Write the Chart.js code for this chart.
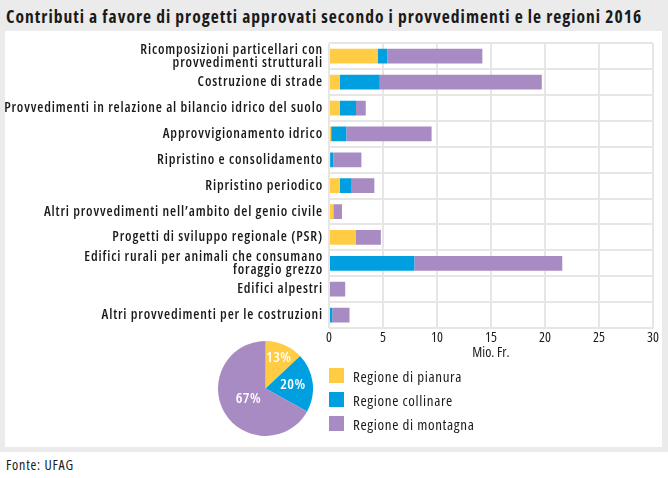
<!DOCTYPE html>
<html lang="it">
<head>
<meta charset="UTF-8">
<title>Contributi 2016</title>
<style>
  body { margin: 0; width: 668px; height: 478px; background: #fff; position: relative; font-family: "Open Sans", sans-serif; font-stretch: condensed; color: #1a1a1a; overflow: hidden; }
  .frame { position: absolute; left: 0; top: 0; width: 668px; height: 452px; background: #ebebeb; }
  .title { position: absolute; left: 6px; top: 4px; font-size: 17.5px; font-weight: bold; letter-spacing: 1px; white-space: nowrap; }
  .panel { position: absolute; left: 5px; top: 31px; width: 657px; height: 416px; background: #fff; }
  #barWrap { position: absolute; left: 0; top: 31px; width: 668px; height: 330px; }
  #pieWrap { position: absolute; left: 218px; top: 341px; width: 95px; height: 95px; }
  .legend { position: absolute; left: 329px; top: 368px; font-size: 15px; letter-spacing: 0.65px; }
  .legend div { height: 24px; line-height: 16px; position: relative; padding-left: 24px; }
  .legend span { position: absolute; left: 0; top: 0; width: 15px; height: 15px; }
  .source { position: absolute; left: 6px; top: 455px; font-size: 14px; letter-spacing: 0.8px; }
</style>
</head>
<body>
<div class="frame"></div>
<div class="title">Contributi a favore di progetti approvati secondo i provvedimenti e le regioni 2016</div>
<div class="panel"></div>
<div id="barWrap"><canvas id="barChart"></canvas></div>
<div id="pieWrap"><canvas id="pieChart"></canvas></div>
<div class="legend" id="legend"></div>
<div class="source">Fonte: UFAG</div>

<script src="https://cdn.jsdelivr.net/npm/chart.js"></script>
<script>
    // categorie (provvedimenti)
    var categories = [
        ['Ricomposizioni particellari con', 'provvedimenti strutturali'],
        'Costruzione di strade',
        'Provvedimenti in relazione al bilancio idrico del suolo',
        'Approvvigionamento idrico',
        'Ripristino e consolidamento',
        'Ripristino periodico',
        'Altri provvedimenti nell\u2019ambito del genio civile',
        'Progetti di sviluppo regionale (PSR)',
        ['Edifici rurali per animali che consumano', 'foraggio grezzo'],
        'Edifici alpestri',
        'Altri provvedimenti per le costruzioni'
    ];
    var regions = ['Regione di pianura', 'Regione collinare', 'Regione di montagna'];
    var colors = ['#ffcc44', '#00a0e0', '#a88bc2'];

    // Mio. Fr.
    var pianura   = [4.5, 1.0, 1.0, 0.2, 0.1, 1.0, 0.4, 2.5, 0.0, 0.0, 0.0];
    var collinare = [0.9, 3.7, 1.5, 1.4, 0.3, 1.1, 0.0, 0.0, 7.9, 0.0, 0.3];
    var montagna  = [8.8, 15.0, 0.9, 7.9, 2.6, 2.1, 0.8, 2.3, 13.7, 1.5, 1.6];

    var xTicks = [0, 5, 10, 15, 20, 25, 30];

    // quote in percentuale (torta)
    var shares = [13, 20, 67];
    var shareLabels = ['13%', '20%', '67%'];

    // canvas: lo stretch passa nella stringa font tramite "weight"
    var fontFam = '"Open Sans", sans-serif';

    // legenda
    var lg = document.getElementById('legend');
    regions.forEach(function (r, i) {
        var d = document.createElement('div');
        d.innerHTML = '<span style="background:' + colors[i] + '"></span>' + r;
        lg.appendChild(d);
    });

    // spaziatura lettere solo per le etichette dell'asse y (disegnate dopo le barre, z: 1)
    var spacing = {
        id: 'spacing',
        beforeDraw: function (chart) { chart.ctx.letterSpacing = '0px'; },
        afterDatasetsDraw: function (chart) { chart.ctx.letterSpacing = '0.85px'; },
        afterDraw: function (chart) { chart.ctx.letterSpacing = '0px'; }
    };

    // bar chart
    var barChart = new Chart(document.getElementById('barChart'), {
        type: 'bar',
        data: {
            labels: categories,
            datasets: [
                { label: regions[0], data: pianura, backgroundColor: colors[0] },
                { label: regions[1], data: collinare, backgroundColor: colors[1] },
                { label: regions[2], data: montagna, backgroundColor: colors[2] }
            ]
        },
        options: {
            indexAxis: 'y',
            responsive: true,
            maintainAspectRatio: false,
            animation: false,
            events: [],
            layout: { padding: { left: 0, right: 15, top: 10, bottom: 0 } },
            datasets: { bar: { categoryPercentage: 1, barPercentage: 0.57, borderWidth: 0 } },
            plugins: { legend: { display: false }, tooltip: { enabled: false } },
            scales: {
                x: {
                    stacked: true,
                    min: 0, max: 30,
                    afterBuildTicks: function (s) { s.ticks = xTicks.map(function (v) { return { value: v }; }); },
                    afterFit: function (s) { s.height = 33; },
                    grid: { color: '#e6e6e6', lineWidth: 2, drawTicks: false },
                    border: { display: false },
                    ticks: { color: '#1a1a1a', padding: 2, font: { family: fontFam, size: 14, weight: 'normal condensed' } },
                    title: { display: true, text: 'Mio. Fr.', color: '#1a1a1a', padding: 0, font: { family: fontFam, size: 14, weight: 'normal condensed' } }
                },
                y: {
                    stacked: true,
                    afterFit: function (s) { s.width = 329; },
                    grid: { color: '#e6e6e6', lineWidth: 2, drawTicks: false, offset: true },
                    border: { display: false },
                    ticks: { z: 1, color: '#1a1a1a', padding: 6, autoSkip: false, font: { family: fontFam, size: 14, weight: '600 condensed', lineHeight: 0.9 } }
                }
            }
        },
        plugins: [spacing]
    });

    // etichette nella torta
    var pieLabelPos = [0.7, 0.58, 0.42];
    var pieLabels = {
        id: 'pieLabels',
        afterDatasetsDraw: function (chart) {
            var ctx = chart.ctx;
            var arcs = chart.getDatasetMeta(0).data;
            ctx.save();
            ctx.fillStyle = '#fff';
            ctx.font = '600 condensed 15px ' + fontFam;
            ctx.letterSpacing = '0.4px';
            ctx.textAlign = 'center';
            ctx.textBaseline = 'middle';
            arcs.forEach(function (a, i) {
                var ang = (a.startAngle + a.endAngle) / 2;
                var r = a.outerRadius * pieLabelPos[i];
                ctx.fillText(shareLabels[i], a.x + Math.cos(ang) * r, a.y + Math.sin(ang) * r);
            });
            ctx.restore();
        }
    };

    var pieChart = new Chart(document.getElementById('pieChart'), {
        type: 'pie',
        data: {
            labels: regions,
            datasets: [{ data: shares, backgroundColor: colors, borderWidth: 0, hoverOffset: 0 }]
        },
        options: {
            responsive: true,
            maintainAspectRatio: false,
            animation: false,
            events: [],
            layout: { padding: 0 },
            plugins: { legend: { display: false }, tooltip: { enabled: false } }
        },
        plugins: [pieLabels]
    });
</script>
</body>
</html>
